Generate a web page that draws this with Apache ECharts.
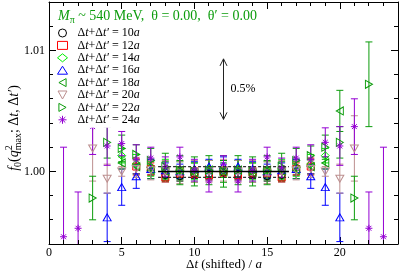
<!DOCTYPE html>
<html><head><meta charset="utf-8">
<script src="https://cdn.jsdelivr.net/npm/echarts@6/dist/echarts.min.js"></script>
<style>html,body{margin:0;padding:0;background:#fff}#c{width:399px;height:273px}</style>
</head><body><div id="c"></div>
<script>
// ---------------- data ----------------
const seriesNames = ['10a','12a','14a','16a','18a','20a','22a','24a'];

const x10 = [7,8,9,10,11,12,13,14,15,16,17];
const y10 = [1.0003,0.9997,0.9996,0.9998,0.9998,0.9999,0.9998,0.9998,0.9996,0.9997,1.0003];
const e10 = [0.0006,0.0005,0.0004,0.0004,0.0004,0.0004,0.0004,0.0004,0.0004,0.0005,0.0006];

const x12 = [6,7,8,9,10,11,12,13,14,15,16,17,18];
const y12 = [1.0004,1.0002,0.9995,0.9999,0.9999,0.9997,1.0000,0.9997,0.9999,0.9999,0.9995,1.0002,1.0004];
const e12 = [0.0007,0.0005,0.0004,0.0004,0.0004,0.0004,0.0004,0.0004,0.0004,0.0004,0.0004,0.0005,0.0007];

const x14 = [5,6,7,8,9,10,11,12,13,14,15,16,17,18,19];
const y14 = [1.0013,1.0006,1.0003,1.0002,1.0001,1.0000,1.0002,1.0001,1.0002,1.0000,1.0001,1.0002,1.0003,1.0006,1.0013];
const e14 = [0.0006,0.0008,0.0007,0.0008,0.0007,0.0007,0.0007,0.0006,0.0007,0.0007,0.0007,0.0008,0.0007,0.0008,0.0006];

const x16 = [4,5,6,7,8,9,10,11,12,13,14,15,16,17,18,19,20];
const y16 = [0.9962,0.9987,0.9996,1.0002,1.0001,1.0000,1.0002,1.0004,1.0005,1.0004,1.0002,1.0000,1.0001,1.0002,0.9996,0.9987,0.9962];
const e16 = [0.0020,0.0015,0.0010,0.0008,0.0006,0.0006,0.0006,0.0006,0.0007,0.0006,0.0006,0.0006,0.0006,0.0008,0.0010,0.0015,0.0020];

const x18 = [5,6,7,8,9,10,11,12,13,14,15,16,17,18,19,20];
const y18 = [1.0007,1.0004,1.0001,1.0000,1.0001,0.9999,1.0001,1.0000,1.0001,0.9999,1.0001,1.0000,1.0001,1.0004,1.0007,1.0050];
const e18 = [0.0005,0.0006,0.0007,0.0008,0.0008,0.0008,0.0008,0.0009,0.0008,0.0008,0.0008,0.0008,0.0007,0.0006,0.0005,0.0017];

const x20 = [3,4,5,6,7,8,9,10,11,12,13,14,15,16,17,18,19,20,21];
const y20 = [1.0019,0.9994,1.0000,1.0002,1.0001,1.0000,0.9999,1.0000,1.0000,1.0001,1.0000,1.0000,0.9999,1.0000,1.0001,1.0002,1.0000,0.9994,1.0019];
const e20 = [0.0027,0.0012,0.0004,0.0007,0.0008,0.0009,0.0009,0.0009,0.0009,0.0009,0.0009,0.0009,0.0009,0.0009,0.0008,0.0007,0.0004,0.0012,0.0027];

const x22 = [3,4,5,6,7,8,9,10,11,12,13,14,15,16,17,18,19,20,21,22];
const y22 = [0.9978,1.0024,1.0019,1.0014,1.0009,1.0004,1.0001,1.0000,1.0001,1.0000,1.0001,1.0000,1.0001,1.0004,1.0009,1.0013,1.0020,1.0024,0.9978,1.0072];
const e22 = [0.0018,0.0013,0.0011,0.0008,0.0010,0.0011,0.0012,0.0012,0.0012,0.0013,0.0012,0.0012,0.0012,0.0011,0.0010,0.0008,0.0010,0.0013,0.0018,0.0035];

const x24 = [1,2,3,4,5,6,7,8,9,10,11,12,13,14,15,16,17,18,19,20,21,22,23];
const y24 = [0.9946,0.9953,1.0037,1.0021,1.0023,1.0010,1.0011,1.0004,1.0012,1.0001,0.9992,1.0006,0.9992,1.0001,1.0012,1.0003,1.0011,1.0010,1.0024,1.0021,1.0037,0.9953,0.9946];
const e24 = [0.0074,0.0030,0.0023,0.0016,0.0010,0.0012,0.0009,0.0008,0.0008,0.0009,0.0009,0.0007,0.0009,0.0009,0.0008,0.0008,0.0009,0.0012,0.0012,0.0016,0.0023,0.0030,0.0074];

// fit band and scale arrow
const fitRange = [7.5, 16.5];
const fitMid = 1.0000, fitLo = 0.9995, fitHi = 1.0004;
const arrowX = 12, arrowLo = 1.0043, arrowHi = 1.0093;
const arrowLabel = '0.5%';

// axes
const xMin = 0, xMax = 24;
const xTickValues = [0, 5, 10, 15, 20];
const xMinorTicks = [1,2,3,4,6,7,8,9,11,12,13,14,16,17,18,19,21,22,23];
const yMin = 0.994, yMax = 1.014;
const yTickValues = [1.00, 1.01];
const yTickLabels = ['1.00', '1.01'];
const yMinorTicks = [0.996, 0.998, 1.002, 1.004, 1.006, 1.008, 1.012];

// ---------------- styling ----------------
const SERIF = 'Liberation Serif';
const GREEN = '#0c9c0c';
const colors = ['#000000','#ff0000','#00ee00','#0000ff',GREEN,'#bc8f8f',GREEN,'#9400d3'];
const symbols = [
  'circle','rect','diamond','triangle',
  'path://M0,5L9,0L9,10Z',
  'path://M0,0L10,0L5,9Z',
  'path://M9,5L0,0L0,10Z',
  'path://M5,0L5,10M0,5L10,5M1.5,1.5L8.5,8.5M1.5,8.5L8.5,1.5'
];
const symSizes = [7,7,8,[8,7],[7,8],[8,7],[7,8],7];

const allX = [x10,x12,x14,x16,x18,x20,x22,x24];
const allY = [y10,y12,y14,y16,y18,y20,y22,y24];
const allE = [e10,e12,e14,e16,e18,e20,e22,e24];

const crisp = v => Math.round(v - 0.5) + 0.5;

const series = [];
seriesNames.forEach((nm, i) => {
  const col = colors[i];
  series.push({
    type:'custom', name:'err'+nm, silent:true, clip:true,
    encode:{x:0, y:1},
    data: allX[i].map((x,k)=>[x, allY[i][k], allE[i][k]]),
    renderItem(params, api){
      const x = api.value(0), y = api.value(1), e = api.value(2);
      const t = api.coord([x, y+e]), b = api.coord([x, y-e]);
      const cw = 3.5;
      const st = {stroke: col, lineWidth: 1};
      return {type:'group', children:[
        {type:'line', shape:{x1:t[0],y1:t[1],x2:b[0],y2:b[1]}, style:st},
        {type:'line', shape:{x1:t[0]-cw,y1:t[1],x2:t[0]+cw,y2:t[1]}, style:st},
        {type:'line', shape:{x1:b[0]-cw,y1:b[1],x2:b[0]+cw,y2:b[1]}, style:st}
      ]};
    }
  });
  series.push({
    type:'scatter', name:nm, symbol:symbols[i], symbolSize:symSizes[i], clip:true,
    itemStyle:{color:'rgba(0,0,0,0)', borderColor:col, borderWidth:1, opacity:1},
    emphasis:{disabled:true},
    data: allX[i].map((x,k)=>[x, allY[i][k]])
  });
});

// fit band
series.push({
  type:'custom', name:'fit', silent:true, z:5, clip:true,
  encode:{x:[0,1], y:[2,3,4]},
  data:[[fitRange[0], fitRange[1], fitMid, fitLo, fitHi]],
  renderItem(params, api){
    const x0 = api.value(0), x1 = api.value(1);
    const line = (yv, dashed) => {
      const a = api.coord([x0, yv]), b = api.coord([x1, yv]);
      return {type:'line', shape:{x1:a[0],y1:a[1],x2:b[0],y2:b[1]},
        style: dashed ? {stroke:'#333', lineWidth:1.2, lineDash:[3,2]} : {stroke:'#000', lineWidth:1.5}};
    };
    return {type:'group', children:[line(api.value(2), false), line(api.value(3), true), line(api.value(4), true)]};
  }
});

// 0.5% arrow
series.push({
  type:'custom', name:'arrow', silent:true, z:5,
  encode:{x:0, y:[1,2]},
  data:[[arrowX, arrowLo, arrowHi]],
  renderItem(params, api){
    const b = api.coord([api.value(0), api.value(1)]), t = api.coord([api.value(0), api.value(2)]);
    const st = {stroke:'#222', lineWidth:1};
    const hw = 3.5, hh = 7;
    return {type:'group', children:[
      {type:'line', shape:{x1:b[0],y1:b[1],x2:t[0],y2:t[1]}, style:st},
      {type:'polyline', shape:{points:[[t[0]-hw,t[1]+hh],[t[0],t[1]],[t[0]+hw,t[1]+hh]]}, style:{stroke:'#222', lineWidth:1, fill:null}},
      {type:'polyline', shape:{points:[[b[0]-hw,b[1]-hh],[b[0],b[1]],[b[0]+hw,b[1]-hh]]}, style:{stroke:'#222', lineWidth:1, fill:null}},
      {type:'text', x:t[0]+7, y:(t[1]+b[1])/2, style:{text:arrowLabel, fontFamily:SERIF, fontSize:12, fill:'#000', align:'left', verticalAlign:'middle'}}
    ]};
  }
});

// minor ticks on all four sides (positions through the axis scales)
series.push({
  type:'custom', name:'xminor', silent:true, z:6, clip:false,
  encode:{x:0, y:1},
  data: xMinorTicks.map(v => [v, yMin]),
  renderItem(params, api){
    const cs = params.coordSys;
    const px = crisp(api.coord([api.value(0), api.value(1)])[0]);
    const st = {stroke:'#000', lineWidth:1};
    const yb = cs.y + cs.height, yt = cs.y;
    return {type:'group', children:[
      {type:'line', shape:{x1:px, y1:yb, x2:px, y2:yb-4}, style:st},
      {type:'line', shape:{x1:px, y1:yt, x2:px, y2:yt+4}, style:st}
    ]};
  }
});
series.push({
  type:'custom', name:'yminor', silent:true, z:6, clip:false,
  encode:{x:0, y:1},
  data: yMinorTicks.map(v => [xMin, v]),
  renderItem(params, api){
    const cs = params.coordSys;
    const py = crisp(api.coord([api.value(0), api.value(1)])[1]);
    const st = {stroke:'#000', lineWidth:1};
    const xl = cs.x, xr = cs.x + cs.width;
    return {type:'group', children:[
      {type:'line', shape:{x1:xl, y1:py, x2:xl+4, y2:py}, style:st},
      {type:'line', shape:{x1:xr, y1:py, x2:xr-4, y2:py}, style:st}
    ]};
  }
});

// ---------------- text runs (title, axis titles) ----------------
const ctx = document.createElement('canvas').getContext('2d');
function measure(t, s, it){ ctx.font = (it?'italic ':'') + s + 'px "' + SERIF + '"'; return ctx.measureText(t).width; }
function buildRuns(runs, color){
  let x = 0; const kids = [];
  runs.forEach(r => {
    kids.push({type:'text', x:x, y:r.dy||0, style:{text:r.t, fontFamily:SERIF, fontSize:r.s, fontStyle:r.it?'italic':'normal', fill:color, align:'left', verticalAlign:'middle'}});
    if (!r.hold) x += measure(r.t, r.s, r.it);
  });
  return {kids, width:x};
}
const titleRuns = buildRuns([
  {t:'M', s:14, it:true}, {t:'π', s:10, dy:4}, {t:' ~ 540 MeV,  θ = 0.00,  θ′ = 0.00', s:14}
], GREEN);
const yRuns = buildRuns([
  {t:'f', s:14, it:true}, {t:'0', s:10, dy:4}, {t:'(', s:14}, {t:'q', s:14, it:true},
  {t:'2', s:10, dy:-5, hold:true}, {t:'max', s:10, dy:4}, {t:'; Δ', s:14}, {t:'t', s:14, it:true},
  {t:', Δ', s:14}, {t:'t′', s:14, it:true}, {t:')', s:14}
], '#000');
const xRuns = buildRuns([
  {t:'Δ', s:13}, {t:'t', s:13, it:true}, {t:' (shifted) / ', s:13}, {t:'a', s:13, it:true}
], '#000');

// ---------------- axes (one per side) ----------------
const lab = {fontFamily:SERIF, fontSize:12, color:'#000'};
function xAx(pos){
  return {
    type:'value', position:pos, min:xMin, max:xMax,
    axisLine:{show:true, onZero:false, lineStyle:{color:'#000', width:1}},
    axisTick:{show:true, inside:true, length:7, lineStyle:{color:'#000', width:1}, customValues:xTickValues},
    axisLabel: pos === 'bottom'
      ? {show:true, margin:3, ...lab, customValues:xTickValues, formatter: v => String(v)}
      : {show:false},
    splitLine:{show:false}
  };
}
function yAx(pos){
  return {
    type:'value', position:pos, min:yMin, max:yMax,
    axisLine:{show:true, onZero:false, lineStyle:{color:'#000', width:1}},
    axisTick:{show:true, inside:true, length:7, lineStyle:{color:'#000', width:1}, customValues:yTickValues},
    axisLabel: pos === 'left'
      ? {show:true, margin:4, ...lab, customValues:yTickValues,
         formatter: v => { let best = 0; yTickValues.forEach((t,k)=>{ if (Math.abs(v-t) < Math.abs(v-yTickValues[best])) best = k; }); return yTickLabels[best]; }}
      : {show:false},
    splitLine:{show:false}
  };
}

const chart = echarts.init(document.getElementById('c'), null, {renderer:'canvas'});
chart.setOption({
  animation:false,
  backgroundColor:'#fff',
  grid:{left:49, right:1, top:2, bottom:29, containLabel:false, outerBoundsMode:'none'},
  xAxis:[xAx('bottom'), xAx('top')],
  yAxis:[yAx('left'), yAx('right')],
  legend:{
    orient:'vertical', left:57, top:25, padding:[2,4,2,0], itemGap:0.4,
    itemWidth:10, itemHeight:8, backgroundColor:'#fff', borderWidth:0,
    selectedMode:false,
    data: seriesNames.map((n,i)=>({name:n, icon:symbols[i],
      itemStyle:{color:'rgba(0,0,0,0)', borderColor:colors[i], borderWidth:1}})),
    formatter: n => 'Δ{i|t}+Δ{i|t′} = ' + n.replace('a','') + '{i|a}',
    textStyle:{fontFamily:SERIF, fontSize:12, color:'#000', lineHeight:12, padding:[0,0,0,5],
      rich:{i:{fontFamily:SERIF, fontSize:12, fontStyle:'italic', color:'#000', lineHeight:12}}}
  },
  graphic:{elements:[
    {type:'group', x:58, y:16, children:titleRuns.kids},
    {type:'group', x:14, y:128 + yRuns.width/2, rotation:Math.PI/2, children:yRuns.kids},
    {type:'group', x:224 - xRuns.width/2, y:265, children:xRuns.kids}
  ]},
  series: series.map(s => (s.xAxisIndex = 0, s.yAxisIndex = 0, s))
});
</script>
</body></html>
